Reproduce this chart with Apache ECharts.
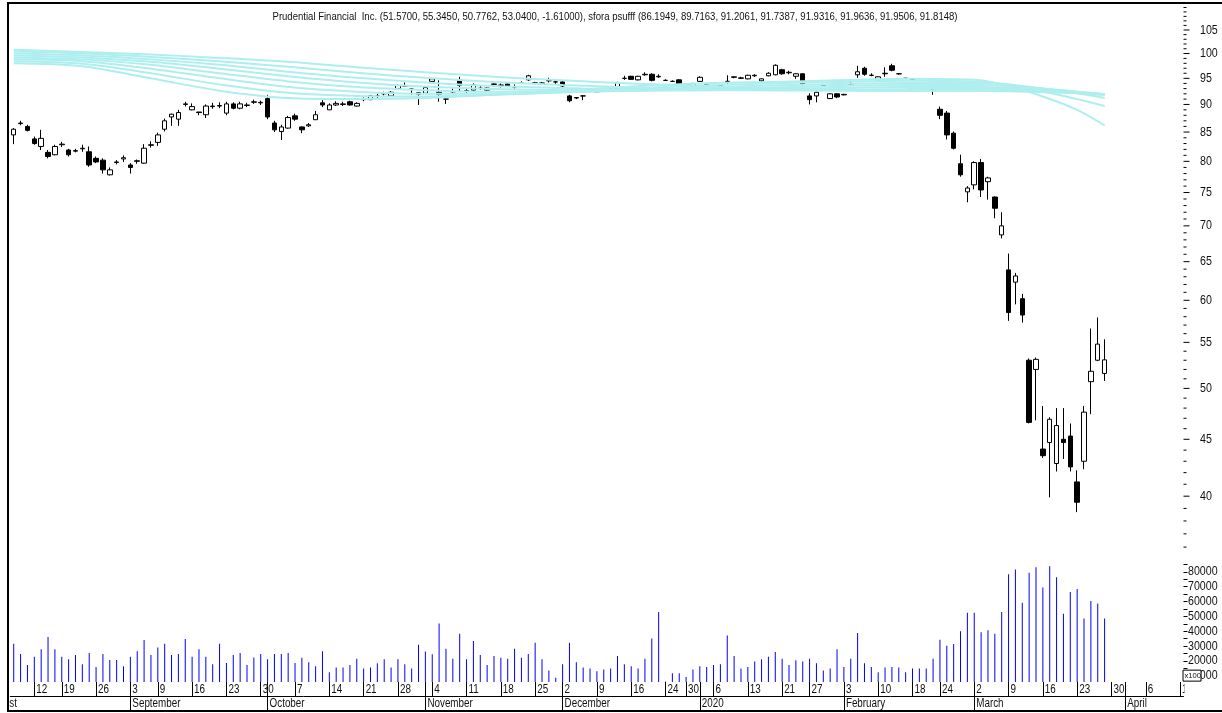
<!DOCTYPE html>
<html><head><meta charset="utf-8">
<script src="https://cdn.jsdelivr.net/npm/echarts@6/dist/echarts.min.js"></script>
<style>html,body{margin:0;padding:0;background:#fff}#c{width:1222px;height:713px}</style>
</head><body><div id="c"></div>
<script>
const titleText = 'Prudential Financial  Inc. (51.5700, 55.3450, 50.7762, 53.0400, -1.61000), sfora psufff (86.1949, 89.7163, 91.2061, 91.7387, 91.9316, 91.9636, 91.9506, 91.8148)';

const dates = [
'2019-08-07','2019-08-08','2019-08-09','2019-08-12','2019-08-13','2019-08-14','2019-08-15',
'2019-08-19','2019-08-20','2019-08-21','2019-08-22','2019-08-23',
'2019-08-26','2019-08-27','2019-08-28','2019-08-29','2019-08-30',
'2019-09-03','2019-09-04','2019-09-05','2019-09-06',
'2019-09-09','2019-09-10','2019-09-11','2019-09-12','2019-09-13',
'2019-09-16','2019-09-17','2019-09-18','2019-09-19','2019-09-20',
'2019-09-23','2019-09-24','2019-09-25','2019-09-26','2019-09-27',
'2019-09-30','2019-10-01','2019-10-02','2019-10-03','2019-10-04',
'2019-10-07','2019-10-08','2019-10-09','2019-10-10','2019-10-11',
'2019-10-14','2019-10-15','2019-10-16','2019-10-17','2019-10-18',
'2019-10-21','2019-10-22','2019-10-23','2019-10-24','2019-10-25',
'2019-10-28','2019-10-29','2019-10-30','2019-10-31','2019-11-01',
'2019-11-04','2019-11-05','2019-11-06','2019-11-07','2019-11-08',
'2019-11-11','2019-11-12','2019-11-13','2019-11-14','2019-11-15',
'2019-11-18','2019-11-19','2019-11-20','2019-11-21','2019-11-22',
'2019-11-25','2019-11-26','2019-11-27','2019-11-29',
'2019-12-02','2019-12-03','2019-12-04','2019-12-05','2019-12-06',
'2019-12-09','2019-12-10','2019-12-11','2019-12-12','2019-12-13',
'2019-12-16','2019-12-17','2019-12-18','2019-12-19','2019-12-20',
'2019-12-24','2019-12-26','2019-12-27',
'2019-12-30','2019-12-31',
'2020-01-02','2020-01-03',
'2020-01-06','2020-01-07','2020-01-08','2020-01-09','2020-01-10',
'2020-01-13','2020-01-14','2020-01-15','2020-01-16','2020-01-17',
'2020-01-21','2020-01-22','2020-01-23','2020-01-24',
'2020-01-27','2020-01-28','2020-01-29','2020-01-30','2020-01-31',
'2020-02-03','2020-02-04','2020-02-05','2020-02-06','2020-02-07',
'2020-02-10','2020-02-11','2020-02-12','2020-02-13','2020-02-14',
'2020-02-18','2020-02-19','2020-02-20','2020-02-21',
'2020-02-24','2020-02-25','2020-02-26','2020-02-27','2020-02-28',
'2020-03-02','2020-03-03','2020-03-04','2020-03-05','2020-03-06',
'2020-03-09','2020-03-10','2020-03-11','2020-03-12','2020-03-13',
'2020-03-16','2020-03-17','2020-03-18','2020-03-19','2020-03-20',
'2020-03-23','2020-03-24','2020-03-25','2020-03-26','2020-03-27'
];
const futureDates = ['2020-03-30','2020-03-31','2020-04-01','2020-04-02','2020-04-03','2020-04-06','2020-04-07','2020-04-08','2020-04-09','2020-04-10','2020-04-13'];

// [open, close, low, high]
const ohlc = [
[84.5,85.5,82.9,85.7],[86.5,86.6,86.2,87.0],[86.0,85.3,85.1,86.3],[83.8,83.0,82.8,84.2],[82.5,83.9,81.9,85.4],
[81.5,80.8,80.5,81.9],[81.1,82.5,81.0,82.8],[82.8,82.9,82.4,83.3],[81.9,81.1,80.8,82.1],[81.7,81.8,81.5,82.1],
[82.1,82.2,81.6,82.8],[81.6,79.4,79.1,82.5],[80.5,79.9,79.7,80.8],[80.2,78.6,78.0,80.5],[77.8,78.6,77.7,79.0],
[79.8,79.9,79.5,80.2],[80.4,80.6,79.9,81.0],[79.4,79.0,78.0,79.7],[80.0,80.1,79.6,80.3],[79.7,82.2,79.6,82.9],
[82.7,82.8,82.3,83.4],[83.2,84.5,82.6,84.9],[85.5,87.0,85.1,87.4],[87.7,88.2,86.1,88.3],[87.3,88.5,86.1,89.0],
[90.0,90.1,89.6,90.5],[89.0,89.6,88.9,90.2],[88.6,88.5,88.0,88.6],[88.1,89.7,87.5,90.0],[89.6,89.7,89.2,90.3],
[89.7,89.8,89.3,90.4],[88.4,90.1,88.0,90.5],[90.1,89.3,89.1,90.4],[89.3,90.1,89.1,90.5],[89.8,89.9,89.5,90.3],
[90.4,90.5,90.1,90.9],[90.3,90.4,89.9,90.7],[91.1,87.7,87.3,91.8],[86.6,85.4,85.0,87.0],[85.1,85.9,83.6,86.3],
[85.7,87.6,85.6,87.9],[87.9,87.3,87.0,88.3],[85.9,85.4,84.8,86.0],[86.1,86.3,85.9,86.6],[87.2,88.1,87.2,88.8],
[90.3,89.9,89.5,90.8],[89.0,89.9,89.0,90.2],[89.9,90.2,89.7,90.6],[90.0,90.1,89.7,90.5],[90.5,89.9,89.8,90.7],
[89.7,90.2,89.6,90.4],[90.9,91.0,90.6,91.3],[90.9,91.6,90.8,91.8],[91.5,91.6,91.2,92.0],[92.0,92.1,91.7,92.4],
[91.6,92.3,91.5,92.5],[93.0,93.6,93.0,93.8],[93.5,93.5,93.3,94.2],[92.9,92.9,91.8,93.0],[92.2,91.9,89.9,92.3],
[92.1,93.2,92.0,93.3],[94.4,94.9,94.3,95.1],[92.3,91.9,90.5,94.6],[91.0,91.0,90.1,91.1],[92.1,92.1,92.0,93.0],
[94.7,93.6,92.4,95.3],[92.5,92.6,92.1,93.0],[92.7,93.7,92.5,94.0],[93.0,93.1,92.8,93.5],[92.7,93.1,92.6,93.2],
[93.8,93.9,93.7,94.0],[93.6,93.7,93.2,94.0],[93.9,93.5,93.4,94.1],[93.3,93.4,93.0,93.8],[94.0,94.1,93.9,94.4],
[94.7,95.5,94.5,95.7],[94.1,94.1,94.0,94.3],[94.0,94.1,93.9,94.3],[94.5,94.6,94.2,95.1],[94.3,94.3,93.9,94.6],
[94.3,93.5,93.3,94.5],[91.6,90.7,90.4,91.8],[91.2,91.3,91.0,91.4],[91.6,91.6,90.8,91.7],[92.7,92.8,92.6,92.9],
[92.4,92.8,92.3,92.9],[92.8,92.9,92.7,93.0],[92.9,92.9,92.7,93.0],[92.9,94.2,92.8,94.3],[95.0,95.0,94.7,95.5],
[95.4,94.8,94.7,95.5],[94.7,95.4,94.6,95.5],[95.7,95.8,95.5,96.2],[95.8,94.6,94.4,96.0],[95.3,95.4,95.1,95.8],
[94.6,94.6,94.5,94.8],[94.4,94.4,94.3,94.6],[94.7,93.7,93.5,94.8],[93.8,93.3,93.2,94.0],[93.3,94.0,93.2,94.1],
[94.4,95.2,94.3,95.4],[93.8,93.9,93.7,94.0],[93.4,93.5,93.3,93.6],[93.6,93.7,93.5,93.8],[94.4,94.4,93.7,95.6],
[95.2,95.3,95.0,95.4],[95.0,95.1,94.9,95.3],[94.9,95.6,94.8,95.7],[95.5,95.6,95.3,95.8],[94.5,94.9,94.3,95.0],
[95.5,96.0,95.4,96.2],[95.7,97.6,95.6,97.8],[96.7,95.9,95.7,96.9],[96.1,96.2,95.8,96.5],[95.4,95.9,94.9,96.0],
[95.9,93.9,93.6,96.0],[91.6,90.9,90.0,92.1],[91.6,92.3,90.4,92.4],[93.6,93.6,93.5,93.7],[91.1,92.0,91.0,92.1],
[92.0,91.4,91.2,92.1],[91.8,91.9,91.7,92.0],[93.6,93.7,93.5,94.6],[95.7,96.3,95.1,97.5],[97.0,95.8,95.5,97.3],
[95.6,95.6,95.4,96.0],[94.7,95.3,94.6,95.4],[95.9,96.0,95.3,97.2],[97.5,96.6,96.4,97.9],[95.9,95.9,95.7,96.0],
[95.0,95.0,94.8,95.1],[94.8,94.8,94.7,94.9],[93.8,94.0,93.6,94.1],[93.9,93.9,93.8,94.0],[93.0,92.9,91.8,93.2],
[89.1,88.0,87.3,89.6],[88.4,84.5,83.7,88.8],[84.8,82.2,82.0,85.1],[79.6,77.8,77.5,81.1],[75.1,75.7,73.5,76.0],
[76.2,79.8,75.5,80.0],[79.8,75.4,74.3,80.4],[76.7,77.3,73.9,77.5],[74.3,72.6,71.1,74.4],[68.7,70.0,68.2,72.0],
[63.9,58.5,57.5,66.1],[62.3,63.1,59.5,63.5],[60.2,58.2,57.3,60.8],[53.0,46.6,46.5,53.2],[52.0,53.1,46.8,53.3],
[44.1,43.5,43.3,48.2],[44.7,46.9,39.9,47.1],[42.8,46.3,42.1,48.0],[45.0,44.7,43.2,48.0],[45.3,42.5,42.1,46.5],
[41.2,39.5,38.7,42.2],[43.0,47.6,42.3,48.2],[50.7,51.8,47.4,56.6],[53.0,54.8,52.9,57.9],[51.57,53.04,50.7762,55.345]
];

// volume in hundreds of shares
const volume = [
31500,24600,17100,22800,27800,36100,27800,22800,21000,23900,
17700,25300,15900,24600,20500,20500,16400,22800,26500,34000,
23900,28900,31500,23900,24600,34700,22800,27800,22800,17700,
31500,18600,23900,25300,17100,22300,24600,21000,24600,24600,
25300,18600,22100,19100,16400,26500,12300,15500,15500,17100,
21400,14800,15500,18400,21000,15500,21000,17700,14800,30800,
26200,24400,45200,28200,21400,38300,21000,33300,23900,17100,
23200,22100,21400,28200,22100,24600,32200,21000,13400,8600,
17700,32200,19100,15500,14800,12900,14100,14800,23200,17700,
16400,14800,21400,35100,53000,6100,11600,11600,9000,14100,
16400,15900,17100,17700,37000,23200,14800,15900,19600,21000,
22800,26000,21400,17100,20300,19600,21400,18400,13400,14800,
27800,15900,21400,38800,18400,15900,12300,15500,15900,15500,
12300,14800,14800,14800,21400,34200,30100,31300,39900,52500,
52500,39200,40600,38300,53000,78400,81600,59100,79500,83200,
69400,83800,76300,51800,66500,68500,48600,60300,58700,48600
];

// moving-average lines at these bar indices
const maIdx = [0,10,20,30,40,50,60,70,80,90,100,110,120,130,140,145,150,155,159];
const ma1 = [98.0,97.4,95.0,92.6,91.2,91.0,91.2,91.8,92.6,93.4,94.0,94.3,94.6,94.9,94.7,93.5,91.5,89.0,86.19];
const ma2 = [98.4,97.9,96.0,93.8,92.2,91.6,91.5,91.8,92.3,93.0,93.6,94.0,94.3,94.5,94.4,93.8,92.5,91.0,89.72];
const ma3 = [98.8,98.4,96.9,95.0,93.3,92.4,92.0,92.0,92.3,92.7,93.2,93.6,93.9,94.1,94.1,93.8,93.0,92.1,91.21];
const ma4 = [99.2,98.8,97.7,96.0,94.4,93.3,92.7,92.4,92.4,92.6,92.9,93.2,93.5,93.7,93.7,93.5,93.0,92.4,91.74];
const ma5 = [99.6,99.2,98.3,96.9,95.4,94.2,93.4,92.9,92.7,92.6,92.7,92.9,93.1,93.3,93.3,93.2,92.9,92.4,91.93];
const ma6 = [100.0,99.6,98.8,97.7,96.3,95.1,94.2,93.5,93.1,92.8,92.7,92.7,92.8,92.9,93.0,92.9,92.7,92.3,91.96];
const ma7 = [100.4,100.0,99.3,98.4,97.3,96.1,95.1,94.3,93.7,93.2,92.9,92.7,92.6,92.6,92.7,92.6,92.5,92.2,91.95];
const ma8 = [100.8,100.3,99.8,99.1,98.3,97.2,96.2,95.3,94.6,94.0,93.5,93.1,92.8,92.6,92.6,92.5,92.3,92.1,91.81];

const priceTicks = [40,45,50,55,60,65,70,75,80,85,90,95,100,105];
const volumeLabels = [10000,20000,30000,40000,50000,60000,70000,80000];
const monthNames = ['January','February','March','April','May','June','July','August','September','October','November','December'];

const FONT = "'Liberation Sans Narrow','Arial Narrow','Liberation Sans',Arial,sans-serif";
const NARROW = 0.82;
const cats = dates.concat(futureDates);
const GL = 10.3, GW = 1173.2, GR = GL + GW;

function dt(s){ return new Date(s + 'T00:00:00Z'); }
function isWeekStart(i){
  if (i <= 0) return false;
  const a = dt(cats[i-1]), b = dt(cats[i]);
  return b.getUTCDay() < a.getUTCDay() || (b - a) >= 7 * 864e5;
}
function isMonthStart(i){ return i > 0 && cats[i].slice(5,7) !== cats[i-1].slice(5,7); }
function monthLabel(s){ const m = Number(s.slice(5,7)); return m === 1 ? s.slice(0,4) : monthNames[m-1]; }

const volTicks = [];
for (let v = 10000; v <= 85000; v += 5000) volTicks.push(v);

const chart = echarts.init(document.getElementById('c'));
const maList = [ma1,ma2,ma3,ma4,ma5,ma6,ma7,ma8];

const option = {
  animation: false,
  backgroundColor: '#ffffff',
  grid: [
    {left: GL, width: GW, top: 4, height: 556},
    {left: GL, width: GW, top: 563, height: 119}
  ],
  xAxis: [
    {type: 'category', gridIndex: 0, data: cats, boundaryGap: true, show: false},
    {type: 'category', gridIndex: 1, data: cats, boundaryGap: true, position: 'bottom',
     axisLine: {show: false, onZero: false},
     axisTick: {show: true, alignWithLabel: true, length: 14, interval: (i) => isWeekStart(i) || isMonthStart(i), lineStyle: {color: '#000', width: 1}},
     axisLabel: {show: false},
     splitLine: {show: false}},
    {type: 'category', gridIndex: 1, data: cats, boundaryGap: true, position: 'bottom', offset: 14,
     axisLine: {show: true, onZero: false, lineStyle: {color: '#000', width: 1}},
     axisTick: {show: true, alignWithLabel: true, length: 15, interval: (i) => isMonthStart(i), lineStyle: {color: '#000', width: 1}},
     axisLabel: {show: false},
     splitLine: {show: false}}
  ],
  yAxis: [
    {type: 'log', logBase: 10, gridIndex: 0, position: 'right', min: 35.05, max: 110.8,
     axisLine: {show: false}, axisTick: {show: false}, axisLabel: {show: false}, splitLine: {show: false}},
    {type: 'value', gridIndex: 1, position: 'right', min: 5700, max: 86000,
     axisLine: {show: false},
     axisTick: {show: true, customValues: volTicks, length: 4, lineStyle: {color: '#000'}},
     axisLabel: {show: false},
     splitLine: {show: false}}
  ],
  series: [
    {type: 'candlestick', xAxisIndex: 0, yAxisIndex: 0, data: ohlc, barWidth: 5,
     itemStyle: {color: '#ffffff', color0: '#000000', borderColor: '#000000', borderColor0: '#000000', borderWidth: 1}},
    {type: 'bar', xAxisIndex: 1, yAxisIndex: 1, data: volume, barWidth: 1,
     itemStyle: {color: '#0000ff'}}
  ].concat(maList.map((m) => ({
     type: 'line', xAxisIndex: 0, yAxisIndex: 0, smooth: 0.3, symbol: 'none', z: 5,
     data: maIdx.map((x, k) => [x, m[k]]),
     lineStyle: {color: '#aeeeee', width: 2}
  })))
};
chart.setOption(option);

function label(text, x, y, size, align, sx, z){
  return {type: 'text', z: z || 50, x: x, y: y, scaleX: sx, style: {text: text, fill: '#111', font: size + 'px ' + FONT, align: align, verticalAlign: 'middle'}};
}

const g = [];
// price axis ticks and labels placed through the log axis scale
for (let v = 36; v <= 110; v++) {
  const y = chart.convertToPixel({yAxisIndex: 0}, v);
  const major = priceTicks.indexOf(v) >= 0;
  g.push({type: 'line', z: 50, shape: {x1: GR, y1: y, x2: GR + (major ? 6 : 3), y2: y}, style: {stroke: '#000', lineWidth: 1}});
}
priceTicks.forEach((v) => {
  g.push(label(String(v), 1200, chart.convertToPixel({yAxisIndex: 0}, v), 13, 'left', NARROW));
});
// volume axis labels
volumeLabels.forEach((v) => {
  g.push(label(String(v), 1188, chart.convertToPixel({yAxisIndex: 1}, v), 13, 'left', NARROW));
});
// x axis labels (day of week start, month start)
for (let i = 0; i < cats.length; i++) {
  const x = chart.convertToPixel({xAxisIndex: 1}, i);
  if (isWeekStart(i)) g.push(label(String(Number(cats[i].slice(8))), x + 2, 689.5, 12, 'left', NARROW, 40));
  if (isMonthStart(i)) g.push(label(monthLabel(cats[i]), x + 2, 704, 12, 'left', NARROW, 40));
}
// month already running at the left edge (clipped)
g.push(label('August', 17, 704, 12, 'right', NARROW, 40));
g.push({type: 'rect', z: 45, shape: {x: 0, y: 0, width: 8, height: 713}, style: {fill: '#ffffff'}});
g.push({type: 'rect', z: 45, shape: {x: GR + 1, y: 683, width: 60, height: 12}, style: {fill: '#ffffff'}});
// title
g.push(label(titleText, 615, 17, 11, 'center', 0.868));
// x100 box
const y10k = chart.convertToPixel({yAxisIndex: 1}, 10000);
g.push({type: 'rect', z: 60, shape: {x: 1183, y: y10k - 5.5, width: 18, height: 11}, style: {fill: '#ffffff', stroke: '#000', lineWidth: 1}});
g.push(label('x100', 1184.5, y10k, 8, 'left', 0.95, 61));
// frame
g.push({type: 'rect', z: 70, shape: {x: 8, y: 3, width: 1220, height: 708}, style: {fill: null, stroke: '#000', lineWidth: 2}});
chart.setOption({graphic: {elements: g}});
</script>
</body></html>
